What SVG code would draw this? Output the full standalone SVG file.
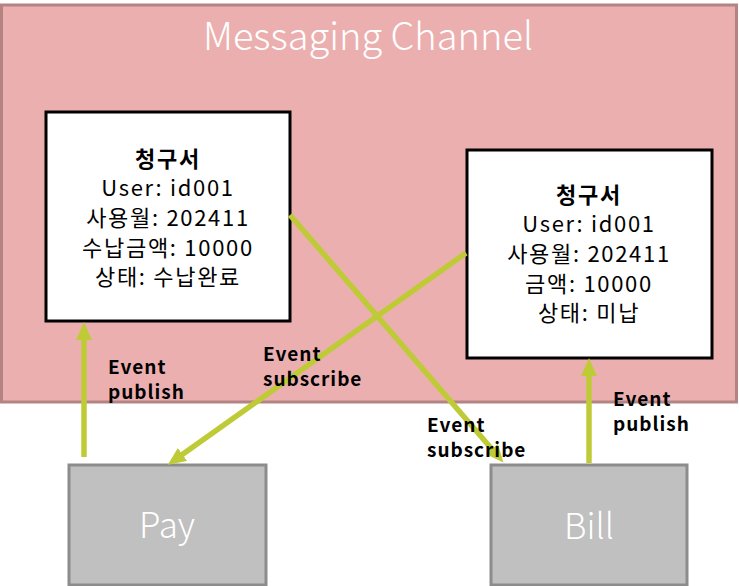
<svg xmlns="http://www.w3.org/2000/svg" width="739" height="586" viewBox="0 0 739 586">
<style>
.t{font-family:"Noto Sans CJK KR","Noto Sans",sans-serif;}
.card{fill:#FFFFFF;stroke:#000000;stroke-width:3;}
.card-t{font-size:22px;fill:#000000;text-anchor:middle;letter-spacing:1.7px;}
.card-h{font-weight:bold;}
.svc{fill:#C0C0C0;stroke:#8C8C8C;stroke-width:3;}
.svc-t{font-size:35px;fill:#FFFFFF;text-anchor:middle;font-weight:300;}
.conn{stroke:#BFCB36;stroke-width:5.5;fill:none;marker-end:url(#ah);}
.lbl{font-size:19px;font-weight:bold;fill:#000000;letter-spacing:1px;}
</style>
<defs>
<marker id="ah" viewBox="0 0 18 16" refX="8" refY="8" markerWidth="18" markerHeight="16" markerUnits="userSpaceOnUse" orient="auto">
<path d="M0,0 L18,8 L0,16 z" fill="#BFCB36"/>
</marker>
</defs>
<g id="channel">
<rect x="1.5" y="5" width="735" height="397" fill="#ECAFB0" stroke="#B48384" stroke-width="3"/>
<text class="t" x="368" y="50" font-size="38" fill="#FFFFFF" text-anchor="middle" font-weight="300">Messaging Channel</text>
</g>
<g id="invoice-paid">
<rect class="card" x="46" y="112" width="244" height="209"/>
<text class="t card-t card-h" x="168" y="167">청구서</text>
<text class="t card-t" x="168" y="196">User: id001</text>
<text class="t card-t" x="168" y="226">사용월: 202411</text>
<text class="t card-t" x="168" y="256">수납금액: 10000</text>
<text class="t card-t" x="168" y="285">상태: 수납완료</text>
</g>
<g id="invoice-unpaid">
<rect class="card" x="467" y="150" width="245" height="208"/>
<text class="t card-t card-h" x="589" y="203">청구서</text>
<text class="t card-t" x="589" y="232">User: id001</text>
<text class="t card-t" x="589" y="262">사용월: 202411</text>
<text class="t card-t" x="589" y="292">금액: 10000</text>
<text class="t card-t" x="589" y="321">상태: 미납</text>
</g>
<g id="pay">
<rect class="svc" x="69" y="465" width="197" height="120"/>
<text class="t svc-t" x="167" y="538">Pay</text>
</g>
<g id="bill">
<rect class="svc" x="491" y="465" width="196" height="120"/>
<text class="t svc-t" x="589" y="539">Bill</text>
</g>
<g id="connectors">
<line class="conn" x1="84" y1="457" x2="84" y2="332"/>
<line class="conn" x1="466" y1="253" x2="176" y2="459"/>
<line class="conn" x1="290" y1="215" x2="497" y2="455"/>
<line class="conn" x1="589" y1="463" x2="589" y2="368"/>
</g>
<g id="labels">
<text class="t lbl" x="108" y="374">Event</text>
<text class="t lbl" x="108" y="399">publish</text>
<text class="t lbl" x="263" y="361">Event</text>
<text class="t lbl" x="263" y="386">subscribe</text>
<text class="t lbl" x="427" y="432">Event</text>
<text class="t lbl" x="427" y="457">subscribe</text>
<text class="t lbl" x="613" y="406">Event</text>
<text class="t lbl" x="613" y="431">publish</text>
</g>
</svg>
